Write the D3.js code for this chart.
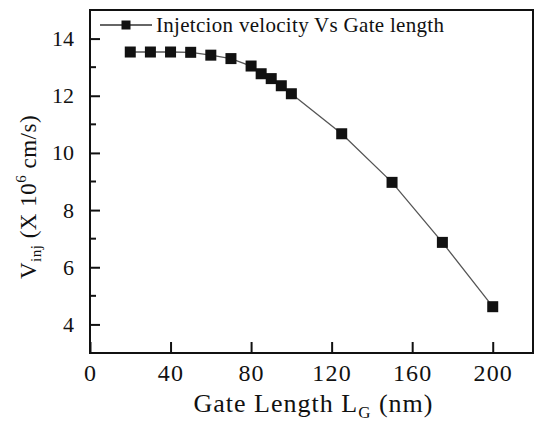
<!DOCTYPE html>
<html>
<head>
<meta charset="utf-8">
<script src="https://cdn.jsdelivr.net/npm/d3@7"></script>
<style>
  html, body { margin: 0; padding: 0; background: #fff; }
  svg text { font-family: "Liberation Serif", "Times New Roman", serif; fill: #111; }
</style>
</head>
<body>
<div id="chart"></div>
<script>
// Injection velocity vs gate length
const gateLength = [20, 30, 40, 50, 60, 70, 80, 85, 90, 95, 100, 125, 150, 175, 200];
const velocity = [13.53, 13.53, 13.53, 13.52, 13.42, 13.30, 13.04, 12.77, 12.60, 12.35, 12.07, 10.67, 8.97, 6.87, 4.62];
const xTicks = [0, 40, 80, 120, 160, 200];
const yTicks = [4, 6, 8, 10, 12, 14];
const yMinorTicks = [5, 7, 9, 11, 13];
const legendLabel = 'Injetcion velocity Vs Gate length';

const width = 537, height = 424;
const margin = { left: 90, right: 4, top: 10, bottom: 71 };

const svg = d3.select('#chart')
    .append('svg')
    .attr('width', width)
    .attr('height', height);

const xScale = d3.scaleLinear()
    .domain([0, 220])
    .range([margin.left, width - margin.right]);

const yScale = d3.scaleLinear()
    .domain([3, 15])
    .range([height - margin.bottom, margin.top]);

const plotBottom = height - margin.bottom;

// frame
svg.append('rect')
    .attr('x', margin.left)
    .attr('y', margin.top)
    .attr('width', width - margin.right - margin.left)
    .attr('height', plotBottom - margin.top)
    .attr('fill', 'none')
    .attr('stroke', '#111')
    .attr('stroke-width', 2);

// x axis ticks (pointing inward)
const xAxis = svg.append('g')
    .attr('transform', `translate(0,${plotBottom})`)
    .call(d3.axisBottom(xScale).tickValues(xTicks).tickSizeInner(-11).tickSizeOuter(0).tickPadding(11));
xAxis.select('.domain').remove();
xAxis.selectAll('line').attr('stroke', '#111').attr('stroke-width', 2);
xAxis.selectAll('text')
    .attr('font-size', '24px')
    .attr('font-family', '"Liberation Serif", "Times New Roman", serif')
    .attr('letter-spacing', '1.2px')
    .attr('fill', '#111');

// y axis major ticks
const yAxis = svg.append('g')
    .attr('transform', `translate(${margin.left},0)`)
    .call(d3.axisLeft(yScale).tickValues(yTicks).tickSizeInner(-10).tickSizeOuter(0).tickPadding(16));
yAxis.select('.domain').remove();
yAxis.selectAll('line').attr('stroke', '#111').attr('stroke-width', 2);
yAxis.selectAll('text')
    .attr('font-size', '22px')
    .attr('font-family', '"Liberation Serif", "Times New Roman", serif')
    .attr('fill', '#111');

// y minor ticks
svg.selectAll('.y-minor')
    .data(yMinorTicks)
    .enter()
    .append('line')
    .attr('class', 'y-minor')
    .attr('x1', margin.left)
    .attr('x2', margin.left + 6)
    .attr('y1', d => yScale(d))
    .attr('y2', d => yScale(d))
    .attr('stroke', '#111')
    .attr('stroke-width', 2);

// data line
const line = d3.line()
    .x((d, i) => xScale(gateLength[i]))
    .y(d => yScale(d));

svg.append('path')
    .datum(velocity)
    .attr('d', line)
    .attr('fill', 'none')
    .attr('stroke', '#555')
    .attr('stroke-width', 1.3);

// markers
const sq = 11;
svg.selectAll('.pt')
    .data(velocity)
    .enter()
    .append('rect')
    .attr('class', 'pt')
    .attr('x', (d, i) => xScale(gateLength[i]) - sq / 2)
    .attr('y', d => yScale(d) - sq / 2)
    .attr('width', sq)
    .attr('height', sq)
    .attr('fill', '#111');

// legend
const legend = svg.append('g').attr('transform', `translate(${margin.left + 10},25)`);
legend.append('line')
    .attr('x1', 0).attr('x2', 52)
    .attr('y1', 0).attr('y2', 0)
    .attr('stroke', '#333')
    .attr('stroke-width', 1.5);
legend.append('rect')
    .attr('x', 26 - 4.5).attr('y', -4.5)
    .attr('width', 9).attr('height', 9)
    .attr('fill', '#111');
legend.append('text')
    .attr('x', 56)
    .attr('y', 7)
    .attr('font-size', '21px')
    .attr('letter-spacing', '0.3px')
    .text(legendLabel);

// x axis title
const xTitle = svg.append('text')
    .attr('x', (xScale(0) + xScale(220)) / 2 + 2)
    .attr('y', 412)
    .attr('text-anchor', 'middle')
    .attr('font-size', '26px')
    .attr('letter-spacing', '1px');
xTitle.append('tspan').text('Gate Length L');
xTitle.append('tspan').attr('font-size', '17px').attr('dy', 6).text('G');
xTitle.append('tspan').attr('dy', -6).text(' (nm)');

// y axis title
const yTitle = svg.append('text')
    .attr('transform', `translate(36,197) rotate(-90)`)
    .attr('text-anchor', 'middle')
    .attr('font-size', '23px')
    .attr('letter-spacing', '0.5px');
yTitle.append('tspan').text('V');
yTitle.append('tspan').attr('font-size', '15px').attr('dy', 5).text('inj');
yTitle.append('tspan').attr('dy', -5).text(' (X 10');
yTitle.append('tspan').attr('font-size', '15px').attr('dy', -10).text('6');
yTitle.append('tspan').attr('dy', 10).text(' cm/s)');
</script>
</body>
</html>
